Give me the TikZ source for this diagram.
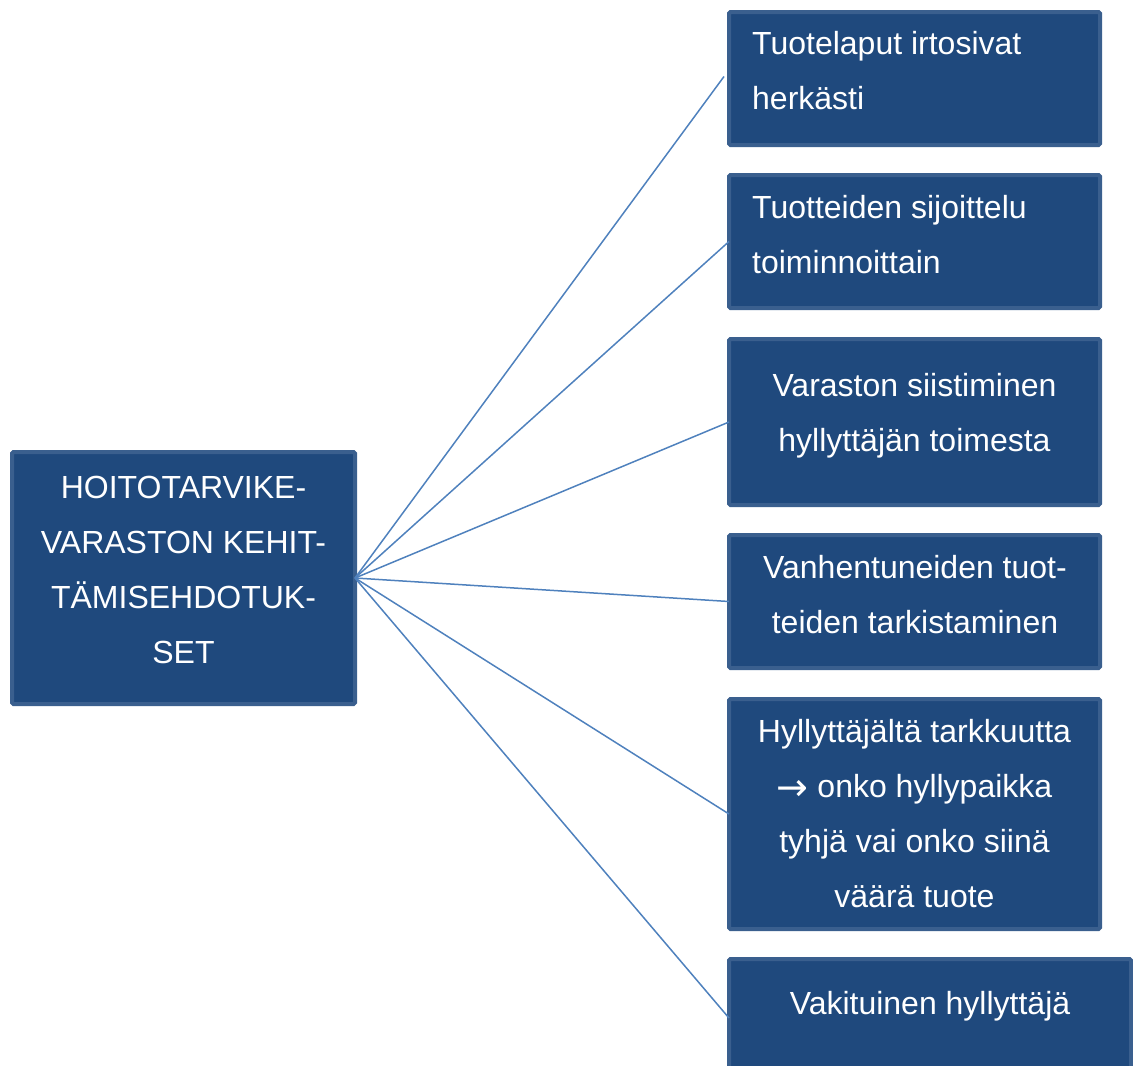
\documentclass[tikz,border=0pt]{standalone}
\usepackage{fontspec}
\setmainfont{Liberation Sans}
\newfontfamily\arrowfont{DejaVu Sans}
\definecolor{boxfill}{HTML}{1F497D}
\definecolor{boxline}{HTML}{3A5F8E}
\definecolor{conn}{HTML}{4F81BD}
\begin{document}
\begin{tikzpicture}[x=1pt,y=-1pt,
  box/.style={draw=boxline, fill=boxfill, line width=4pt, rounded corners=1.5pt,
    inner sep=0pt, outer sep=0pt, minimum width=371pt},
  txt/.style={text=white, inner sep=0pt, font=\fontsize{32}{55}\selectfont},
  conn/.style={draw=conn, line width=1.5pt}]
\useasboundingbox (0,0) rectangle (1133,1066);
\clip (0,0) rectangle (1133,1066);
\node[box, minimum width=343pt, minimum height=252pt] (c) at (183.5,578) {};
\node[box, minimum height=133pt] (b1) at (914.5,78.5) {};
\node[box, minimum height=133pt] (b2) at (914.5,241.5) {};
\node[box, minimum height=166pt] (b3) at (914.5,422) {};
\node[box, minimum height=133pt] (b4) at (914.5,601.5) {};
\node[box, minimum height=230pt] (b5) at (914.5,814) {};
\node[box, minimum width=402pt, minimum height=118pt] (b6) at (930,1018) {};
\node[txt, align=center] (tc) at (183.5,569.5) {HOITOTARVIKE-\\VARASTON KEHIT-\\TÄMISEHDOTUK-\\SET};
\node[txt, align=left, anchor=west] (t1) at (752,70.5) {Tuotelaput irtosivat\\herkästi};
\node[txt, align=left, anchor=west] (t2) at (752,234.5) {Tuotteiden sijoittelu\\toiminnoittain};
\node[txt, align=center] (t3) at (914.5,416) {Varaston siistiminen\\hyllyttäjän toimesta};
\node[txt, align=center] (t4) at (915,594.5) {Vanhentuneiden tuot-\\teiden tarkistaminen};
\node[txt, align=center] (t5) at (914.5,813.5) {Hyllyttäjältä tarkkuutta\\\raisebox{-3pt}{\arrowfont\fontsize{38}{55}\selectfont →}\ onko hyllypaikka\\tyhjä vai onko siinä\\väärä tuote};
\node[txt, align=center] (t6) at (930,1006) {Vakituinen hyllyttäjä};
\coordinate (e1) at ([xshift=-5pt,yshift=2pt]b1.west);
\draw[conn] (c.east) -- (e1);
\foreach \b in {b2,b3,b4,b5,b6}
  \draw[conn] (c.east) -- (\b.west);
\end{tikzpicture}
\end{document}
